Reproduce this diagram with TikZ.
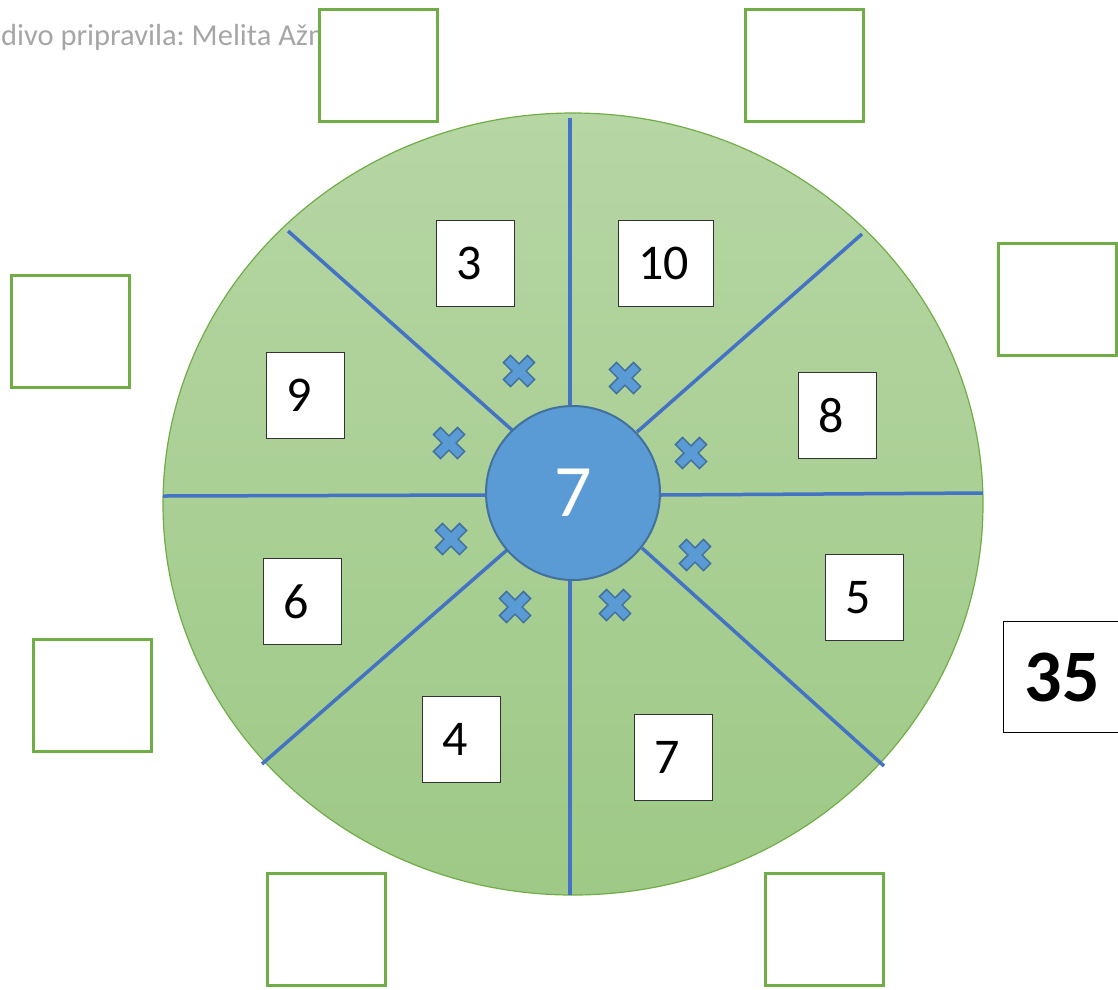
\documentclass[tikz,border=0pt]{standalone}
\usepackage{fontspec}
\setmainfont{Carlito}
\definecolor{spoke}{HTML}{4472C4}
\definecolor{hub}{HTML}{5B9BD5}
\definecolor{hubline}{HTML}{41719C}
\definecolor{grn}{HTML}{70AD47}
\definecolor{wheeltop}{HTML}{B6D6A4}
\definecolor{wheelbot}{HTML}{9EC986}
\definecolor{note}{HTML}{A6A6A6}
\begin{document}
\begin{tikzpicture}[x=1pt,y=-1pt,
  answer/.style={draw=grn,line width=2.5pt,fill=white,minimum width=118pt,minimum height=112pt,inner sep=0pt,anchor=north west},
  numbox/.style={draw=black!80,line width=1.2pt,fill=white,minimum height=86pt,text width=38pt,inner xsep=20pt,inner ysep=0pt,align=left,font=\fontsize{50}{50}\selectfont,anchor=north west},
  spokeline/.style={draw=spoke,line width=3.5pt},
  xmark/.style={fill=hub,draw=hubline,line width=1.5pt,line join=miter},
  xmk/.pic={\path[xmark,rotate=45] (5,5)--(17,5)--(17,-5)--(5,-5)--(5,-17)--(-5,-17)--(-5,-5)--(-17,-5)--(-17,5)--(-5,5)--(-5,17)--(5,17)--cycle;}]
\useasboundingbox (0,0) rectangle (1118,989);

% author note (partly hidden)
\node[anchor=base west,text=note,font=\frenchspacing\fontsize{30.5}{34}\selectfont,inner sep=0pt] (note) at (-43,45) {Gradivo pripravila: Melita Ažman};

% wheel
\shade[top color=wheeltop,bottom color=wheelbot,draw=grn,line width=1.2pt] (573,504) ellipse [x radius=410pt, y radius=391pt];

% spokes
\coordinate (tIn) at (570,405); \coordinate (tOut) at (570,118);
\coordinate (bIn) at (570,580); \coordinate (bOut) at (570,895);
\coordinate (lIn) at (486,495); \coordinate (lOut) at (163,496);
\coordinate (rIn) at (660,495); \coordinate (rOut) at (983,493);
\coordinate (tlIn) at (512,430); \coordinate (tlOut) at (288,231);
\coordinate (trIn) at (637,432); \coordinate (trOut) at (862,234);
\coordinate (blIn) at (507,550); \coordinate (blOut) at (262,764);
\coordinate (brIn) at (642,548); \coordinate (brOut) at (884,766);
\foreach \s in {t,b,l,r,tl,tr,bl,br}{\draw[spokeline] (\s In) -- (\s Out);}

% hub
\node[circle,fill=hub,draw=hubline,line width=2pt,minimum size=174pt,inner sep=0pt,text=white,font=\fontsize{74}{74}\selectfont] (hub) at (573,493) {7};

% crosses
\pic at (519,371) {xmk};
\pic at (625,378) {xmk};
\pic at (449,443) {xmk};
\pic at (691,453) {xmk};
\pic at (451,539) {xmk};
\pic at (695,555) {xmk};
\pic at (515,607) {xmk};
\pic at (615,605) {xmk};

% numbers in the wheel
\node[numbox] (n3) at (436,220) {3};
\node[numbox,text width=55pt] (n10) at (618,220) {10};
\node[numbox] (n9) at (266,352) {9};
\node[numbox] (n8) at (798,372) {8};
\node[numbox] (n6) at (263,558) {6};
\node[numbox] (n5) at (825,554) {5};
\node[numbox] (n4) at (422,696) {4};
\node[numbox] (n7) at (634,714) {7};

% answer boxes
\node[answer] (a1) at (318,8) {};
\node[answer] (a2) at (744,8) {};
\node[answer] (a3) at (10,274) {};
\node[answer] (a4) at (997,242) {};
\node[answer] (a5) at (32,638) {};
\node[answer] (a6) at (266,872) {};
\node[answer] (a7) at (764,872) {};

% result
\node[draw=black,line width=1.2pt,fill=white,minimum width=117pt,minimum height=111pt,inner sep=0pt,anchor=north west,font=\fontsize{74}{74}\selectfont\bfseries] (res) at (1003,621) {35};
\end{tikzpicture}
\end{document}
